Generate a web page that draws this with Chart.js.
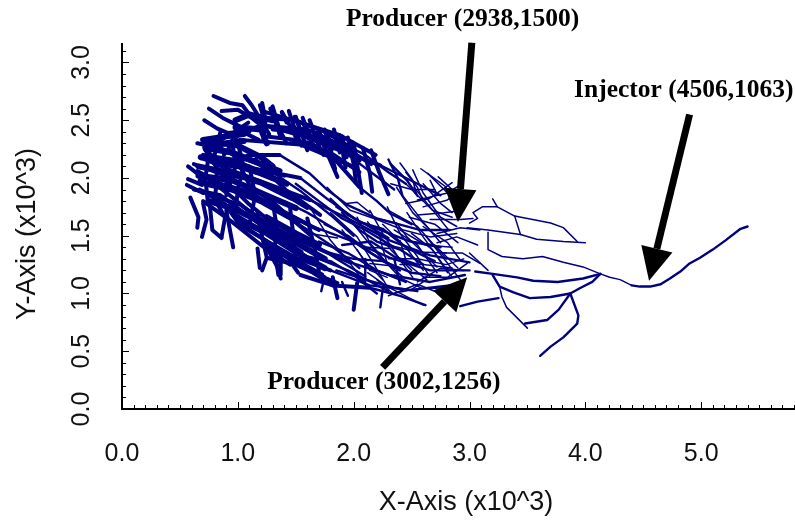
<!DOCTYPE html>
<html>
<head>
<meta charset="utf-8">
<title>Streamlines</title>
<script src="https://cdn.jsdelivr.net/npm/chart.js@4/dist/chart.umd.min.js"></script>
<style>
    html, body { margin: 0; padding: 0; background: #fff; }
    canvas { display: block; }
</style>
</head>
<body>
<canvas id="streamChart" width="795" height="522"></canvas>
<script>
// Streamlines, x and y in thousands: [x, y, x, y, ...]
var solidLines = [
    [.75,2.32, 1.00,2.28, 1.20,2.18, 1.30,2.10],
    [.72,2.26, .95,2.22, 1.20,2.12, 1.36,2.06],
    [.68,2.18, .95,2.12, 1.20,2.04, 1.42,1.95],
    [.66,2.10, .95,2.04, 1.20,1.96, 1.46,1.83],
    [.66,2.02, .95,1.98, 1.20,1.87, 1.50,1.74],
    [.68,1.96, .95,1.90, 1.20,1.80, 1.52,1.62],
    [1.25,1.66, 1.50,1.52, 1.70,1.42],
    [.75,1.80, .95,1.74, 1.20,1.62, 1.50,1.44, 1.75,1.30],
    [1.05,1.62, 1.25,1.52, 1.50,1.36, 1.75,1.22],
    [1.25,1.42, 1.50,1.28, 1.72,1.16],
    [.70,2.33, .90,2.36, 1.05,2.38],
    [.72,2.27, .90,2.30, 1.05,2.32],
    [.98,2.50, 1.10,2.55, 1.30,2.50],
    [.98,2.44, 1.20,2.42, 1.25,2.30]
];

var heavyLines = [
    // upper wing
    [.79,2.71, .93,2.65, 1.04,2.63, 1.10,2.55, 1.22,2.47],
    [1.06,2.71, 1.12,2.63, 1.17,2.55, 1.21,2.48, 1.27,2.38],
    [.75,2.60, .87,2.52, .99,2.46, 1.10,2.40],
    [.86,2.58, 1.00,2.59, 1.12,2.52, 1.22,2.44],
    [.71,2.50, .82,2.43, .91,2.39, 1.04,2.40, 1.18,2.33],
    [.70,2.31, .85,2.33, .96,2.39, 1.09,2.48],
    [1.28,2.60, 1.34,2.44, 1.37,2.35],
    [1.38,2.57, 1.47,2.42, 1.51,2.33],
    [1.21,2.65, 1.24,2.50, 1.22,2.33],
    [1.50,2.53, 1.60,2.24],
    [1.69,2.40, 1.86,2.01],
    [1.88,2.37, 1.93,2.09],
    [2.00,2.30, 2.07,1.87],
    [.98,2.37, 1.21,2.46, 1.54,2.37, 1.88,2.24, 2.23,2.11],
    [1.24,2.57, 1.54,2.48, 1.88,2.37, 2.19,2.20],
    [1.02,2.33, 1.54,2.29, 1.97,2.11],
    [1.30,2.62, 1.36,2.42, 1.42,2.30],
    [1.44,2.58, 1.50,2.40, 1.55,2.28],
    [1.56,2.52, 1.64,2.32],
    [1.62,2.50, 1.70,2.28, 1.74,2.20],
    [1.75,2.42, 1.80,2.22, 1.84,2.08],
    [1.83,2.42, 1.88,2.22],
    [1.95,2.35, 2.00,2.12, 2.02,1.96],
    [2.08,2.26, 2.14,2.04, 2.16,1.88],
    [2.15,2.24, 2.22,2.05, 2.30,1.86],
    [1.25,2.52, 1.50,2.50, 1.75,2.40, 2.00,2.25],
    [1.30,2.42, 1.55,2.40, 1.80,2.30, 2.05,2.15],
    [1.25,2.36, 1.50,2.33, 1.80,2.22, 2.05,2.05],
    [1.25,2.45, 1.60,2.42, 1.90,2.28, 2.15,2.12],
    [1.45,2.30, 1.62,2.31, 1.82,2.18, 2.05,1.92],
    [1.19,2.63, 1.22,2.53],
    [1.30,2.61, 1.32,2.50],
    [1.38,2.57, 1.42,2.48],
    [1.49,2.53, 1.54,2.42],
    [1.56,2.48, 1.61,2.37],
    [1.70,2.40, 1.77,2.27],
    [1.77,2.40, 1.81,2.24],
    [1.90,2.36, 1.94,2.18],
    [1.99,2.31, 2.03,2.16],
    // left mass
    [.57,2.10, .70,2.00],
    [.57,1.99, .69,1.94],
    [.56,1.94, .70,1.87],
    [.59,1.83, .66,1.66, .65,1.57],
    [.70,1.78, .73,1.64, .69,1.49],
    [.76,1.75, .78,1.55, .86,1.48],
    [.82,1.78, .89,1.66, .86,1.49],
    [.90,1.72, .96,1.40],
    [1.17,1.70, 1.21,1.49, 1.25,1.31, 1.21,1.20],
    [1.25,1.40, 1.34,1.23, 1.37,1.13],
    [1.37,1.35, 1.37,1.16],
    [1.43,1.31, 1.52,1.18],
    [1.82,1.14, 1.86,.96],
    [2.03,1.09, 2.00,.86],
    [1.17,1.39, 1.19,1.22],
    [1.32,1.38, 1.35,1.16],
    [1.74,1.14, 1.86,1.09],
    [.72,2.24, .89,1.98, 1.10,1.77, 1.32,1.59],
    [.70,2.03, .98,1.81, 1.24,1.59, 1.54,1.42],
    [.95,2.24, 1.10,1.94, 1.32,1.77, 1.62,1.51],
    [1.15,2.16, 1.41,1.90, 1.71,1.68],
    [.67,1.90, .89,1.77, 1.10,1.55, 1.36,1.38, 1.62,1.20, 1.84,1.07],
    [.72,2.16, .93,2.07, 1.28,1.94, 1.62,1.81],
    [.67,1.98, .93,1.90, 1.28,1.77, 1.62,1.59],
    [.76,1.85, 1.02,1.77, 1.28,1.59, 1.62,1.42, 1.97,1.27],
    [.89,1.77, 1.02,1.59, 1.24,1.46, 1.50,1.31, 1.80,1.20],
    [.89,2.11, 1.10,2.20, 1.36,2.20],
    [.72,2.24, .89,2.11, 1.19,2.07, 1.54,2.00],
    [1.54,1.16, 1.82,1.07, 2.14,1.05],
    [.65,2.30, .85,2.26, 1.00,2.18, 1.20,2.12],
    [.70,2.20, .95,2.16, 1.15,2.08, 1.40,2.02],
    [.62,2.12, .90,2.02, 1.10,2.00, 1.40,1.86, 1.60,1.74],
    [.65,2.06, .85,1.95, 1.10,1.88, 1.40,1.70, 1.70,1.55],
    [.62,1.90, .85,1.85, 1.05,1.70, 1.30,1.52, 1.55,1.36],
    [.70,1.80, .95,1.62, 1.20,1.42, 1.45,1.25],
    [.95,1.70, 1.20,1.55, 1.45,1.40, 1.75,1.22],
    [1.00,2.30, 1.05,2.10, 1.00,1.90, .98,1.70],
    [.85,2.40, .80,2.20, .82,2.00, .80,1.80],
    [.95,2.33, .98,2.10, .90,1.85],
    [1.10,2.10, 1.15,1.85, 1.10,1.60],
    [.75,2.20, .72,2.00, .74,1.80],
    [1.05,2.44, .95,2.30, .88,2.20],
    [1.30,1.80, 1.34,1.55, 1.30,1.30],
    [1.45,1.75, 1.48,1.50, 1.50,1.25],
    [1.60,1.65, 1.66,1.40, 1.70,1.20],
    [1.25,1.31, 1.50,1.25, 1.65,1.18, 1.82,1.07]
];

var middleLines = [
    [.93,2.07, 1.28,1.94, 1.62,1.81, 1.97,1.64, 2.31,1.46, 2.66,1.33, 3.00,1.27],
    [1.62,1.59, 1.97,1.46, 2.31,1.31, 2.66,1.20, 3.00,1.20],
    [1.62,1.42, 1.97,1.27, 2.31,1.16, 2.66,1.10, 2.96,1.16],
    [1.80,1.20, 2.14,1.07, 2.49,1.03, 2.83,1.07],
    [1.36,2.20, 1.62,2.04, 1.77,1.90, 1.94,1.77, 2.20,1.65, 2.57,1.55, 2.83,1.55],
    [1.54,2.00, 1.77,1.82, 2.05,1.62, 2.49,1.45, 2.75,1.40],
    [2.23,2.11, 2.49,1.98, 2.75,1.85],
    [2.14,1.05, 2.40,.98, 2.62,.90],
    [2.25,1.03, 2.23,.88],
    [2.05,1.92, 2.20,1.80, 2.32,1.69, 2.50,1.60],
    [1.35,1.60, 1.55,1.50, 1.85,1.30, 2.10,1.15],
    [1.25,1.85, 1.50,1.62, 1.80,1.42, 2.05,1.22],
    [1.30,2.05, 1.55,1.88, 1.80,1.68, 2.00,1.50],
    [1.50,1.95, 1.70,1.80, 1.90,1.65, 2.10,1.55, 2.35,1.40],
    [1.40,1.80, 1.60,1.70, 1.85,1.55, 2.10,1.38, 2.35,1.22],
    [1.70,1.45, 1.95,1.35, 2.20,1.20, 2.45,1.10],
    [1.85,1.20, 2.10,1.12, 2.35,1.05, 2.55,1.02],
    [1.90,1.70, 2.05,1.55, 2.20,1.45, 2.40,1.38, 2.60,1.25],
    [1.80,1.82, 1.95,1.68, 2.10,1.60, 2.30,1.48],
    [2.30,2.16, 2.38,2.00, 2.42,1.85],
    [1.90,2.30, 2.10,2.20, 2.30,2.05, 2.45,1.95],
    [1.95,2.20, 2.15,2.05, 2.35,1.90],
    [2.32,2.12, 2.46,1.98, 2.54,1.86],
    [1.75,1.60, 1.95,1.50, 2.15,1.35, 2.40,1.20],
    [1.70,1.30, 1.95,1.20, 2.15,1.10, 2.30,1.02],
    [1.85,1.75, 2.05,1.62, 2.25,1.56, 2.45,1.40, 2.70,1.28],
    [1.80,1.35, 2.00,1.30, 2.25,1.28, 2.50,1.18, 2.75,1.15],
    [1.60,1.32, 1.80,1.28, 2.00,1.16, 2.20,1.00],
    [1.90,1.42, 2.15,1.45, 2.35,1.32, 2.55,1.25],
    [1.90,1.10, 1.95,.98],
    [1.75,1.15, 1.72,1.02],
    [2.10,1.30, 2.10,1.10],
    [2.35,1.30, 2.40,1.08],
    [4.13,1.17, 3.98,1.13, 3.76,1.10, 3.55,1.11, 3.41,1.14, 3.20,1.17, 3.05,1.19],
    [4.13,1.17, 4.06,1.10, 3.96,1.05, 3.87,1.00, 3.70,.97, 3.52,.96, 3.38,1.01, 3.26,1.06, 3.20,1.16],
    [3.87,1.00, 3.94,.81, 3.93,.74, 3.81,.62, 3.70,.54, 3.61,.46],
    [3.87,1.00, 3.77,.86, 3.67,.77, 3.48,.74],
    [2.92,.89, 3.07,.93, 3.25,.96],
    [5.40,1.58, 5.34,1.56, 5.21,1.46, 5.10,1.38, 4.99,1.31, 4.90,1.26, 4.82,1.19, 4.73,1.13, 4.65,1.08, 4.56,1.06, 4.47,1.06, 4.40,1.07]
];

var fineLines = [
    [1.77,1.92, 1.97,1.72, 2.20,1.64, 2.43,1.55, 2.66,1.49, 2.89,1.52],
    [1.94,1.78, 2.03,1.79, 2.14,1.70],
    [2.20,1.65, 2.37,1.61, 2.46,1.49, 2.60,1.35, 2.72,1.23],
    [2.37,1.92, 2.51,1.70, 2.66,1.55, 2.75,1.44],
    [2.51,2.07, 2.60,1.87, 2.75,1.66, 2.89,1.58],
    [2.64,2.04, 2.81,1.87, 2.89,1.78],
    [2.55,1.81, 2.81,1.87, 2.92,1.94],
    [2.60,1.75, 2.81,1.81, 2.89,1.88],
    [2.66,1.64, 2.92,1.64, 3.03,1.65],
    [2.72,1.52, 2.92,1.57, 3.09,1.55],
    [2.72,1.44, 2.89,1.49, 3.07,1.42],
    [2.77,1.35, 2.94,1.35, 3.09,1.26],
    [2.60,1.14, 2.81,1.14, 2.98,1.26],
    [2.12,1.18, 2.29,1.06, 2.60,.90],
    [2.20,1.12, 2.34,1.00, 2.49,1.03, 2.63,1.12],
    [2.03,1.38, 2.14,1.20, 2.29,1.14],
    [2.40,1.46, 2.46,1.26, 2.63,1.12],
    [2.23,1.46, 2.29,1.26, 2.43,1.14],
    [1.80,1.70, 2.03,1.49, 2.17,1.26, 2.29,1.06],
    [1.62,1.75, 1.80,1.46, 1.97,1.26, 2.12,1.06],
    [2.60,1.58, 2.81,1.44, 2.92,1.29],
    [2.46,1.70, 2.60,1.49, 2.72,1.32, 2.81,1.18],
    [2.29,1.75, 2.40,1.52, 2.55,1.32, 2.66,1.14],
    [2.14,1.72, 2.25,1.52, 2.40,1.29, 2.51,1.14],
    [2.03,1.66, 2.14,1.44, 2.29,1.26],
    [2.12,1.40, 2.32,1.39],
    [2.14,1.26, 2.32,1.24],
    [1.62,1.52, 1.86,1.48],
    [1.45,1.43, 1.62,1.31],
    [1.45,1.26, 1.71,1.17],
    [2.40,2.13, 2.51,1.98, 2.55,1.84],
    [2.45,1.95, 2.68,1.72, 2.85,1.66],
    [2.30,1.72, 2.55,1.58, 2.80,1.30],
    [2.50,1.45, 2.70,1.42, 2.90,1.22],
    [2.40,1.25, 2.60,1.25, 2.85,1.22],
    [2.35,1.16, 2.60,1.04, 2.80,1.05],
    [1.90,1.55, 2.10,1.28, 2.25,1.12],
    [2.00,1.60, 2.20,1.35, 2.38,1.16],
    [2.12,1.62, 2.32,1.38, 2.50,1.20],
    [2.25,1.60, 2.45,1.40, 2.60,1.20],
    [2.35,1.55, 2.55,1.42, 2.72,1.18],
    [2.50,1.52, 2.68,1.38, 2.85,1.14],
    [2.62,1.50, 2.78,1.30, 2.92,1.12],
    [2.42,1.85, 2.60,1.62, 2.70,1.50],
    [2.52,1.92, 2.70,1.70, 2.82,1.55],
    [2.30,1.30, 2.55,1.30, 2.80,1.25, 2.95,1.30],
    [2.30,1.42, 2.55,1.36, 2.80,1.35],
    [2.40,1.55, 2.62,1.42, 2.85,1.40],
    [2.48,1.66, 2.70,1.60, 2.90,1.44],
    [2.55,1.68, 2.78,1.70, 2.95,1.72],
    [2.45,1.78, 2.65,1.82, 2.85,1.96],
    [2.55,1.10, 2.75,1.22, 2.95,1.20],
    [2.30,.98, 2.55,1.08, 2.70,1.02, 2.90,1.10],
    [2.32,1.95, 2.50,1.90, 2.70,1.90],
    [2.60,1.95, 2.75,1.78, 2.85,1.70],
    [2.58,2.08, 2.72,1.98, 2.80,1.92],
    [2.45,2.05, 2.55,1.92, 2.60,1.80],
    [2.66,1.98, 2.72,1.86],
    [2.73,2.01, 2.85,1.90],
    [4.40,1.07, 4.30,1.12, 4.21,1.14, 4.13,1.17, 3.98,1.23, 3.81,1.27, 3.63,1.32, 3.46,1.30, 3.28,1.32, 3.16,1.38, 3.16,1.53],
    [3.00,1.35, 3.16,1.20],
    [4.00,1.44, 3.81,1.45, 3.58,1.47, 3.44,1.51, 3.16,1.55, 2.98,1.57],
    [3.93,1.45, 3.81,1.57, 3.70,1.61, 3.39,1.67, 3.24,1.75, 3.20,1.82],
    [3.39,1.67, 3.44,1.51],
    [3.24,1.75, 3.11,1.75, 3.03,1.70, 3.07,1.65, 3.00,1.61],
    [3.50,.70, 3.32,.88, 3.28,.97, 3.26,1.06]
];

// Tick labels on the two axes
var xTickLabels = ['0.0', '1.0', '2.0', '3.0', '4.0', '5.0'];
var yTickLabels = ['0.0', '0.5', '1.0', '1.5', '2.0', '2.5', '3.0'];

// Call-outs, in the same units as the streamlines
var calloutTexts = ['Producer (2938,1500)', 'Injector (4506,1063)', 'Producer (3002,1256)'];
var calloutTextX = [2.94, 4.85, 2.26];
var calloutTextY = [3.37, 2.76, .23];
var arrowTailX = [3.02, 4.90, 2.25];
var arrowTailY = [3.17, 2.55, .36];
var arrowTipX = [2.90, 4.55, 2.98];
var arrowTipY = [1.62, 1.11, 1.14];

function toPoints(flat) {
    var points = [];
    for (var i = 0; i < flat.length; i += 2) {
        points.push({ x: flat[i], y: flat[i + 1] });
    }
    return points;
}

function lineDatasets(lines, width) {
    return lines.map(function (line) {
        return {
            data: toPoints(line),
            showLine: true,
            borderColor: '#000080',
            borderWidth: width,
            borderCapStyle: 'round',
            borderJoinStyle: 'round',
            pointRadius: 0,
            tension: 0
        };
    });
}

// Inward tick marks, long on the labelled values
var inwardTicks = {
    id: 'inwardTicks',
    afterDraw: function (chart) {
        var ctx = chart.ctx;
        var xScale = chart.scales.x;
        var yScale = chart.scales.y;
        ctx.save();
        ctx.strokeStyle = '#000';
        ctx.lineWidth = 1;
        ctx.beginPath();
        xScale.ticks.forEach(function (tick) {
            var px = Math.round(xScale.getPixelForValue(tick.value)) + 0.5;
            var big = Math.abs(tick.value - Math.round(tick.value)) < 0.01;
            ctx.moveTo(px, yScale.bottom);
            ctx.lineTo(px, yScale.bottom - (big ? 7 : 4));
        });
        yScale.ticks.forEach(function (tick) {
            var py = Math.round(yScale.getPixelForValue(tick.value)) + 0.5;
            var big = Math.abs(tick.value * 2 - Math.round(tick.value * 2)) < 0.01;
            ctx.moveTo(xScale.left, py);
            ctx.lineTo(xScale.left + (big ? 7 : 4), py);
        });
        ctx.stroke();
        ctx.restore();
    }
};

var callouts = {
    id: 'callouts',
    afterDraw: function (chart) {
        var ctx = chart.ctx;
        var xScale = chart.scales.x;
        var yScale = chart.scales.y;
        ctx.save();
        ctx.fillStyle = '#000';
        ctx.strokeStyle = '#000';
        ctx.font = 'bold 25.5px "Liberation Serif"';
        ctx.textAlign = 'center';
        ctx.textBaseline = 'middle';
        calloutTexts.forEach(function (text, i) {
            ctx.fillText(text, xScale.getPixelForValue(calloutTextX[i]), yScale.getPixelForValue(calloutTextY[i]));

            var x0 = xScale.getPixelForValue(arrowTailX[i]);
            var y0 = yScale.getPixelForValue(arrowTailY[i]);
            var x1 = xScale.getPixelForValue(arrowTipX[i]);
            var y1 = yScale.getPixelForValue(arrowTipY[i]);
            var angle = Math.atan2(y1 - y0, x1 - x0);
            var headLen = 33;
            var headHalf = 16;
            var bx = x1 - headLen * Math.cos(angle);
            var by = y1 - headLen * Math.sin(angle);

            ctx.lineWidth = 7;
            ctx.beginPath();
            ctx.moveTo(x0, y0);
            ctx.lineTo(bx, by);
            ctx.stroke();

            ctx.beginPath();
            ctx.moveTo(x1, y1);
            ctx.lineTo(bx - headHalf * Math.sin(angle), by + headHalf * Math.cos(angle));
            ctx.lineTo(bx + headHalf * Math.sin(angle), by - headHalf * Math.cos(angle));
            ctx.closePath();
            ctx.fill();
        });
        ctx.restore();
    }
};

var tickFont = { family: '"Liberation Sans"', size: 25 };
var titleFont = { family: '"Liberation Sans"', size: 27 };

// no room for the last labels to push the plot area in
function clearPadding(scale) {
    scale.paddingLeft = 0;
    scale.paddingRight = 0;
    scale.paddingTop = 0;
    scale.paddingBottom = 0;
}

var streamChart = new Chart(document.getElementById('streamChart').getContext('2d'), {
    type: 'scatter',
    data: {
        datasets: lineDatasets(fineLines, 1.5)
            .concat(lineDatasets(middleLines, 2.4))
            .concat(lineDatasets(heavyLines, 4))
            .concat(lineDatasets(solidLines, 6))
    },
    options: {
        responsive: false,
        animation: false,
        layout: { padding: { top: 44, right: 0, bottom: 0, left: 0 } },
        plugins: {
            legend: { display: false },
            tooltip: { enabled: false }
        },
        scales: {
            x: {
                type: 'linear',
                min: 0,
                max: 5.81,
                afterFit: function (scale) { scale.height = 113; clearPadding(scale); },
                border: { color: '#000', width: 2 },
                grid: { display: false },
                title: {
                    display: true,
                    text: '  X-Axis (x10^3)',
                    color: '#111',
                    font: titleFont,
                    padding: 3
                },
                ticks: {
                    includeBounds: false,
                    stepSize: 0.1,
                    autoSkip: false,
                    maxRotation: 0,
                    color: '#111',
                    font: tickFont,
                    padding: 22,
                    callback: function (value) {
                        var label = value.toFixed(1);
                        return xTickLabels.indexOf(label) >= 0 ? label : '';
                    }
                }
            },
            y: {
                type: 'linear',
                min: 0,
                max: 3.16,
                afterFit: function (scale) { scale.width = 122; clearPadding(scale); },
                border: { color: '#000', width: 2 },
                grid: { display: false },
                title: {
                    display: true,
                    text: 'Y-Axis (x10^3)  ',
                    color: '#111',
                    font: titleFont,
                    padding: 11
                },
                ticks: {
                    includeBounds: false,
                    stepSize: 0.1,
                    autoSkip: false,
                    minRotation: 90,
                    maxRotation: 90,
                    crossAlign: 'center',
                    color: '#111',
                    font: tickFont,
                    padding: 15,
                    callback: function (value) {
                        var label = value.toFixed(1);
                        return yTickLabels.indexOf(label) >= 0 ? label : '';
                    }
                }
            }
        }
    },
    plugins: [inwardTicks, callouts]
});
</script>
</body>
</html>
